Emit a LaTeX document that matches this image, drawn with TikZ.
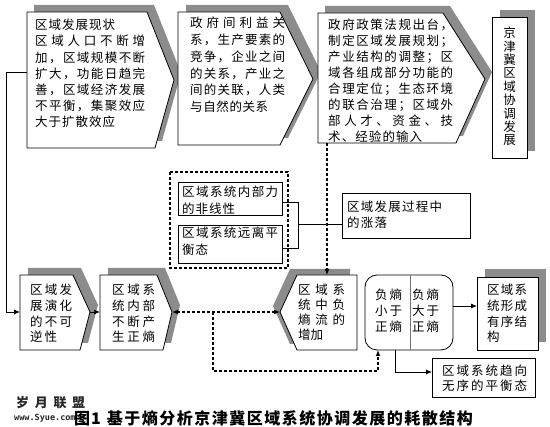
\documentclass[tikz,border=0pt]{standalone}
\usepackage{fontspec}
\setmainfont{Noto Sans CJK SC}
\newfontfamily\wmmono{DejaVu Sans Mono}
\usetikzlibrary{arrows.meta}
\let\JLend\relax
\def\JLi#1#2\JLend{#1\if\relax\detokenize{#2}\relax\else\hfil\JLi#2\JLend\fi}
\newcommand\JL[2]{\hbox to #1{\JLi#2\JLend}}
\begin{document}
\begin{tikzpicture}[x=1pt,y=-1pt,
  box/.style={draw=black,line width=0.8pt,fill=white,line join=miter},
  shd/.style={fill=black!45},
  txt/.style={anchor=west,inner sep=0pt,align=left,font=\fontsize{12.5}{#1}\selectfont},
  txt/.default=16,
  tip/.tip={Latex[length=6pt,width=5pt]},
  conn/.style={line width=0.9pt,-tip},
  plain/.style={line width=0.9pt},
  dsh/.style={line width=1.2pt,dash pattern=on 3pt off 2pt}]
\useasboundingbox (0,0) rectangle (550,427);
\fill[white] (0,0) rectangle (550,427);

% ---- top row ----
\fill[shd] (34,5) -- (154,5) -- (181,73) -- (162,141) -- (34,141) -- cycle;
\draw[box] (27,12) -- (147,12) -- (174,80) -- (155,148) -- (27,148) -- cycle;
\fill[shd] (186,5) -- (288,5) -- (321,72) -- (288,138) -- (186,138) -- cycle;
\draw[box] (178,12) -- (280,12) -- (313,79) -- (280,145) -- (178,145) -- cycle;
\fill[shd] (325,6) -- (450,6) -- (492,72) -- (463,136) -- (325,136) -- cycle;
\draw[box] (318,13) -- (443,13) -- (485,79) -- (456,143) -- (318,143) -- cycle;
\fill[shd] (500,10) rectangle (535,151);
\draw[box] (492,17) rectangle (527,158);

% ---- middle ----
\draw[dsh] (170,172) rectangle (288,268);
\draw[box] (178,182) rectangle (282,215);
\draw[box] (178,225) rectangle (282,263);
\draw[box] (342,193) rectangle (470,238);

% ---- bottom row ----
\fill[shd] (28,268) -- (81,268) -- (98,305) -- (88,343) -- (28,343) -- cycle;
\draw[box] (20,275) -- (73,275) -- (90,312) -- (80,350) -- (20,350) -- cycle;
\fill[shd] (108,268) -- (165,268) -- (180,305) -- (171,343) -- (108,343) -- cycle;
\draw[box] (100,275) -- (157,275) -- (172,312) -- (163,350) -- (100,350) -- cycle;
\fill[shd] (273,306) -- (290,269) -- (350,269) -- (350,344) -- (290,344) -- cycle;
\draw[box] (280,312) -- (297,275) -- (357,275) -- (357,350) -- (297,350) -- cycle;
\draw[box,rounded corners=12pt] (365,275) rectangle (453,350);
\draw[black!55,line width=0.6pt] (410,275) -- (410,350);
\fill[shd] (485,269) rectangle (546,342);
\draw[box] (477,277) rectangle (538,350);
\draw[box] (432,358) rectangle (535,397);

% ---- connection points ----
\coordinate (b1w) at (27,72);
\coordinate (Aw) at (20,312);
\coordinate (Atip) at (90,312);
\coordinate (Bw) at (100,312);
\coordinate (Btip) at (172,312);
\coordinate (Ctip) at (280,312);
\coordinate (brn) at (213,312);
\coordinate (b3s) at (327,143);
\coordinate (Cn) at (327,275);
\coordinate (Ds) at (378,350);
\coordinate (Ds2) at (395,350);
\coordinate (De) at (453,306);
\coordinate (Ew) at (477,306);
\coordinate (Fw) at (432,372);
\coordinate (aE) at (282,202);
\coordinate (bE) at (282,248);
\coordinate (k1) at (298,202);
\coordinate (k2) at (298,248);
\coordinate (kmid) at (298,224);
\coordinate (zw) at (342,224);

% ---- connectors ----
\draw[conn] (b1w) -- ++(-21,0) |- (Aw);
\draw[conn] (Atip) -- (Bw);
\draw[dsh,tip-tip] (Btip) -- (Ctip);
\draw[dsh,-tip] (brn) -- ++(0,59) -| (Ds);
\draw[dsh,-tip] (b3s) -- (Cn);
\draw[plain] (aE) -- (k1) -- (k2) -- (bE);
\draw[plain] (kmid) -- (zw);
\draw[conn] (De) -- (Ew);
\draw[conn] (Ds2) |- (Fw);

% ---- texts ----
\node[txt=16.2] (t1) at (35,73.5) {\JL{80pt}{区域发展现状}\\\JL{110pt}{区域人口不断增}\\\JL{110pt}{加，区域规模不断}\\\JL{110pt}{扩大，功能日趋完}\\\JL{110pt}{善，区域经济发展}\\\JL{110pt}{不平衡，集聚效应}\\\JL{80pt}{大于扩散效应}};
\node[txt=16.8] (t2) at (190,65) {\JL{95pt}{政府间利益关}\\\JL{95pt}{系，生产要素的}\\\JL{95pt}{竞争，企业之间}\\\JL{95pt}{的关系，产业之}\\\JL{95pt}{间的关联，人类}\\\JL{78pt}{与自然的关系}};
\node[txt=16] (t3) at (328,81) {\JL{125pt}{政府政策法规出台，}\\\JL{125pt}{制定区域发展规划；}\\\JL{125pt}{产业结构的调整；区}\\\JL{125pt}{域各组成部分功能的}\\\JL{125pt}{合理定位；生态环境}\\\JL{125pt}{的联合治理；区域外}\\\JL{125pt}{部人才、资金、技}\\\JL{94pt}{术、经验的输入}};
\node[inner sep=0pt,align=center,font=\fontsize{12.5}{13.4}\selectfont] (t4) at (509.5,86.5) {京\\津\\冀\\区\\域\\协\\调\\发\\展};
\node[txt=17] (ta) at (182,200) {\JL{96pt}{区域系统内部力}\\\JL{53pt}{的非线性}};
\node[txt=17] (tb) at (182,241) {\JL{96pt}{区域系统远离平}\\\JL{26pt}{衡态}};
\node[txt=16] (tz) at (347,215) {\JL{95pt}{区域发展过程中}\\\JL{40pt}{的涨落}};
\node[txt=15.7] (tA) at (30,313.5) {\JL{42pt}{区域发}\\\JL{42pt}{展演化}\\\JL{42pt}{的不可}\\\JL{27pt}{逆性}};
\node[txt=15.7] (tB) at (112,313.5) {\JL{43pt}{区域系}\\\JL{43pt}{统内部}\\\JL{43pt}{不断产}\\\JL{43pt}{生正熵}};
\node[txt=15] (tC) at (298,312.5) {\JL{47pt}{区域系}\\\JL{47pt}{统中负}\\\JL{47pt}{熵流的}\\\JL{25pt}{增加}};
\node[txt=16] (tD1) at (375,311) {\JL{27pt}{负熵}\\\JL{27pt}{小于}\\\JL{27pt}{正熵}};
\node[txt=16] (tD2) at (412,311) {\JL{27pt}{负熵}\\\JL{27pt}{大于}\\\JL{27pt}{正熵}};
\node[txt=15.7] (tE) at (487,313.5) {\JL{40pt}{区域系}\\\JL{40pt}{统形成}\\\JL{40pt}{有序结}\\\JL{12.5pt}{构}};
\node[txt=15.5] (tF) at (442,378) {\JL{85pt}{区域系统趋向}\\\JL{85pt}{无序的平衡态}};

% ---- caption & watermark ----
\node[anchor=west,inner sep=0pt,font=\fontsize{16}{18}\selectfont\bfseries] (cap) at (74,418) {图\kern1pt 1\kern6pt\JL{366pt}{基于熵分析京津冀区域系统协调发展的耗散结构}};
\node[anchor=west,inner sep=0pt,font=\fontsize{13}{14}\selectfont\bfseries,text=black!85] (wm1) at (16,403) {\JL{69pt}{岁月联盟}};
\node[anchor=west,inner sep=0pt,font=\wmmono\fontsize{8.5}{10}\selectfont\bfseries,text=black!85] (wm2) at (14,418) {www.Syue.com};
\end{tikzpicture}
\end{document}
